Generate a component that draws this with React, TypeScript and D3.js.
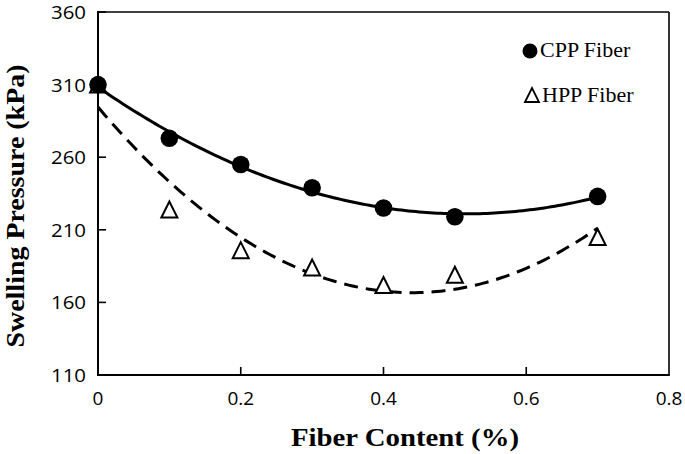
import React from "react";
import * as d3 from "d3";

const fiberContent = [0, 0.1, 0.2, 0.3, 0.4, 0.5, 0.7];
const cppPressure = [310, 273, 255, 239, 225, 219, 233];
const hppPressure = [310, 224, 196, 184, 172, 179, 205];
const xTicks = [0, 0.2, 0.4, 0.6, 0.8];
const yTicks = [110, 160, 210, 260, 310, 360];
const seriesNames = ["CPP Fiber", "HPP Fiber"];

const W = 685;
const H = 454;
const L = 98;
const R = 669;
const T = 12;
const B = 375;

function quadFit(xs: number[], ys: number[]) {
  const n = xs.length;
  let s1 = 0, s2 = 0, s3 = 0, s4 = 0, sy = 0, sxy = 0, sx2y = 0;
  for (let i = 0; i < n; i++) {
    const x = xs[i], y = ys[i];
    s1 += x; s2 += x * x; s3 += x * x * x; s4 += x * x * x * x;
    sy += y; sxy += x * y; sx2y += x * x * y;
  }
  const M = [
    [n, s1, s2],
    [s1, s2, s3],
    [s2, s3, s4],
  ];
  const v = [sy, sxy, sx2y];
  const det = (m: number[][]) =>
    m[0][0] * (m[1][1] * m[2][2] - m[1][2] * m[2][1]) -
    m[0][1] * (m[1][0] * m[2][2] - m[1][2] * m[2][0]) +
    m[0][2] * (m[1][0] * m[2][1] - m[1][1] * m[2][0]);
  const D = det(M);
  const rep = (col: number) => M.map((row, i) => row.map((c, j) => (j === col ? v[i] : c)));
  const a = det(rep(0)) / D;
  const b = det(rep(1)) / D;
  const c = det(rep(2)) / D;
  return (x: number) => a + b * x + c * x * x;
}

export default function App() {
  const x = d3.scaleLinear().domain([0, 0.8]).range([L, R]);
  const y = d3.scaleLinear().domain([110, 360]).range([B, T]);

  const fitC = quadFit(fiberContent, cppPressure);
  const fitH = quadFit(fiberContent, hppPressure);
  const xs = d3.range(0, 0.7001, 0.005);
  const line = d3
    .line<number>()
    .x((d) => x(d))
    .curve(d3.curveLinear);
  const pathC = line.y((d) => y(fitC(d)))(xs) || "";
  const pathH = line.y((d) => y(fitH(d)))(xs) || "";

  const tri = (cx: number, cy: number, s: number) =>
    `M${cx - s / 2},${cy + s / 2}L${cx},${cy - s / 2}L${cx + s / 2},${cy + s / 2}Z`;

  const tickFont = "'Open Sans', 'Liberation Sans', sans-serif";
  const serif = "'Liberation Serif', 'Times New Roman', serif";

  return (
    <svg
      width={W}
      height={H}
      viewBox={`0 0 ${W} ${H}`}
      style={{ position: "absolute", left: 0, top: 0, background: "#fff" }}
    >
      <rect x={0} y={0} width={W} height={H} fill="#fff" />
      {/* frame */}
      <line x1={L} y1={T} x2={R} y2={T} stroke="#000" strokeWidth={1.6} />
      <line x1={R} y1={T} x2={R} y2={B} stroke="#000" strokeWidth={1.6} />
      <line x1={L} y1={T - 1} x2={L} y2={B + 1} stroke="#000" strokeWidth={2} />
      <line x1={L - 1} y1={B} x2={R + 0.8} y2={B} stroke="#000" strokeWidth={2} />

      {/* y ticks */}
      {yTicks.map((t) => (
        <g key={"y" + t}>
          <line x1={L} x2={L + 8} y1={y(t)} y2={y(t)} stroke="#000" strokeWidth={1.6} />
          <text
            x={86}
            y={y(t)}
            textAnchor="end"
            dominantBaseline="central"
            fontFamily={tickFont}
            fontSize={19}
            textLength={t >= 100 ? 35 : undefined}
            lengthAdjust="spacingAndGlyphs"
            fill="#000"
          >
            {t}
          </text>
        </g>
      ))}
      {/* x ticks */}
      {xTicks.map((t) => (
        <g key={"x" + t}>
          {t > 0 && t < 0.8 && (
            <line x1={x(t)} x2={x(t)} y1={B} y2={B - 8} stroke="#000" strokeWidth={1.6} />
          )}
          <text
            x={x(t)}
            y={405}
            textAnchor="middle"
            fontFamily={tickFont}
            fontSize={19}
            fill="#000"
          >
            {t}
          </text>
        </g>
      ))}

      {/* axis titles */}
      <text
        x={405}
        y={446}
        textAnchor="middle"
        fontFamily={serif}
        fontWeight="bold"
        fontSize={25}
        textLength={228}
        lengthAdjust="spacingAndGlyphs"
        fill="#000"
      >
        Fiber Content (%)
      </text>
      <text
        transform={`translate(24,206) rotate(-90)`}
        x={0}
        y={0}
        textAnchor="middle"
        fontFamily={serif}
        fontWeight="bold"
        fontSize={25}
        textLength={283}
        lengthAdjust="spacingAndGlyphs"
        fill="#000"
      >
        Swelling Pressure (kPa)
      </text>

      {/* HPP trend + markers */}
      <path d={pathH} fill="none" stroke="#000" strokeWidth={3} strokeDasharray="14 8" />
      {fiberContent.map((fc, i) => (
        <path
          key={"h" + i}
          d={tri(x(fc), y(hppPressure[i]), 16)}
          fill="#fff"
          stroke="#000"
          strokeWidth={2}
          strokeLinejoin="miter"
        />
      ))}

      {/* CPP trend + markers */}
      <path d={pathC} fill="none" stroke="#000" strokeWidth={3} />
      {fiberContent.map((fc, i) => (
        <circle key={"c" + i} cx={x(fc)} cy={y(cppPressure[i])} r={8.8} fill="#000" />
      ))}

      {/* legend */}
      <circle cx={530} cy={51} r={7.5} fill="#000" />
      <text x={540} y={57} fontFamily={serif} fontSize={22} fill="#000">
        {seriesNames[0]}
      </text>
      <path d={tri(532, 95, 14)} fill="none" stroke="#000" strokeWidth={1.8} />
      <text x={542} y={102} fontFamily={serif} fontSize={22} fill="#000">
        {seriesNames[1]}
      </text>
    </svg>
  );
}
